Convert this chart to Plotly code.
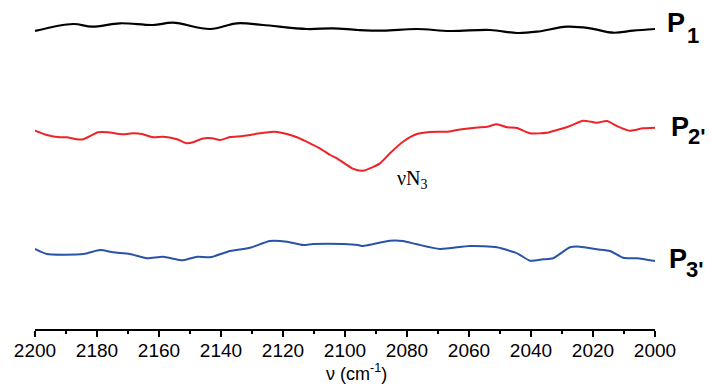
import plotly.graph_objects as go

# IR spectra, 2200-2000 cm-1, traces vertically offset (arbitrary units)
wn_p1 = [2200, 2187.7, 2181.6, 2172.6, 2161.9, 2155.5, 2143.5, 2134.8, 2126.5, 2112.3,
         2103.9, 2095.8, 2087.7, 2076.8, 2066.1, 2053.2, 2044.5, 2038.1, 2028.4, 2021.0,
         2013.5, 2007.1, 2000]
int_p1 = [298, 305, 302.3, 305.7, 304, 306.3, 300, 305.7, 304, 300,
          300.7, 299, 298.3, 300, 298, 299, 296, 297.3, 302.3, 300.7,
          296.3, 298.3, 300]

wn_p2 = [2200, 2196.2, 2191.9, 2189.8, 2186.5, 2184.4, 2179.6, 2176.5, 2171.6, 2168.4,
         2165.5, 2161.9, 2158.7, 2154.2, 2151.0, 2149.0, 2146.1, 2142.9, 2140.3, 2137.1,
         2132.9, 2127.4, 2124.2, 2121.9, 2118.7, 2115.5, 2111.3, 2108.1, 2104.8, 2102.6,
         2097.7, 2094.2, 2088.7, 2085.5, 2081.3, 2076.8, 2072.6, 2067.1, 2063.9, 2058.7,
         2054.2, 2051.0, 2047.7, 2044.5, 2040.3, 2034.8, 2031.6, 2027.4, 2023.2, 2018.7,
         2015.5, 2012.3, 2008.1, 2003.9, 2000]
int_p2 = [198.3, 194, 191.7, 191.7, 189.7, 189.7, 196.7, 196.7, 194.7, 195.7,
          195, 191.7, 192.3, 189.7, 185.7, 186.7, 190.3, 190.7, 189, 192,
          193, 195.7, 197, 197, 195, 191.7, 185.7, 180.7, 174, 170.7,
          160.7, 158.3, 165.7, 175.7, 187.3, 195, 197, 197.3, 199, 201,
          202.3, 204.7, 201.7, 201, 195.7, 196.3, 199, 203, 208.3, 206.3,
          208, 203, 198.3, 200.7, 201.3]

wn_p3 = [2200, 2196.2, 2184.4, 2179.0, 2174.8, 2169.4, 2163.9, 2158.7, 2152.3, 2147.7,
         2143.5, 2137.1, 2130.6, 2124.2, 2118.7, 2113.5, 2110.3, 2100.6, 2095.8, 2094.2,
         2085.5, 2081.3, 2076.8, 2069.4, 2059.7, 2051.0, 2044.5, 2040.3, 2036.1, 2032.9,
         2027.4, 2024.2, 2018.7, 2014.5, 2010.3, 2005.8, 2000]
int_p3 = [80, 75, 75, 79, 76.7, 75, 70.7, 72.3, 68.7, 72.3,
          71.7, 78, 81.3, 88, 87.3, 84, 85, 85, 84, 83,
          88.3, 88, 84.7, 80, 83, 81.7, 75.7, 68.3, 69.7, 70.7,
          81.7, 82.3, 79.7, 78, 71.3, 70.7, 68]

x_ticks = [2200, 2180, 2160, 2140, 2120, 2100, 2080, 2060, 2040, 2020, 2000]

# trace labels: (main letter, subscript, x px, main centre y px, sub x px, sub centre y px)
labels = [
    ("P", "1", 668, 23.5, 688, 35.5),
    ("P", "2'", 672, 127, 689, 136.5),
    ("P", "3'", 670, 259, 687, 269),
]

sans = "Liberation Sans, Arial, Helvetica, sans-serif"
serif = "Liberation Serif, Times New Roman, serif"

L, R, T, B = 35, 56, 0, 56
W, H = 711, 385
PW, PH = W - L - R, H - T - B


def px_x(px):
    return (px - L) / PW


def px_y(py):
    return 1 - (py - T) / PH


fig = go.Figure()
fig.add_trace(go.Scatter(x=wn_p1, y=int_p1, mode="lines",
                         line=dict(color="#000000", width=2.2, shape="spline", smoothing=1.0)))
fig.add_trace(go.Scatter(x=wn_p2, y=int_p2, mode="lines",
                         line=dict(color="#ee2229", width=2, shape="spline", smoothing=0.6)))
fig.add_trace(go.Scatter(x=wn_p3, y=int_p3, mode="lines",
                         line=dict(color="#2a52a8", width=2, shape="spline", smoothing=0.6)))

annotations = []
for main, sub, mx, my, sx, sy in labels:
    annotations.append(dict(x=px_x(mx), y=px_y(my), xref="paper", yref="paper",
                            xanchor="left", yanchor="middle", text=f"<b>{main}</b>",
                            showarrow=False, xshift=-2, borderpad=0,
                            font=dict(family=sans, size=27, color="black")))
    annotations.append(dict(x=px_x(sx), y=px_y(sy), xref="paper", yref="paper",
                            xanchor="left", yanchor="middle", text=f"<b>{sub}</b>",
                            showarrow=False, xshift=-2, borderpad=0,
                            font=dict(family=sans, size=22, color="black")))

annotations += [
    dict(x=2084, y=329 - 179, xref="x", yref="y", xanchor="left", yanchor="middle",
         text="νN<sub>3</sub>", showarrow=False, font=dict(family=serif, size=20, color="black")),
    dict(x=px_x(356), y=px_y(373), xref="paper", yref="paper", xanchor="center", yanchor="middle",
         text="ν (cm<sup>-1</sup>)", showarrow=False, borderpad=0,
         font=dict(family=sans, size=18, color="black")),
]

fig.update_layout(
    width=W, height=H,
    margin=dict(l=L, r=R, t=T, b=B),
    paper_bgcolor="white", plot_bgcolor="white",
    showlegend=False,
    annotations=annotations,
    xaxis=dict(range=[2200, 2000], tickvals=x_ticks, ticktext=[str(v) for v in x_ticks],
               ticks="outside", ticklen=6, tickwidth=1.5, tickcolor="black",
               ticklabelstandoff=-3,
               showline=True, linecolor="black", linewidth=1.5, showgrid=False, zeroline=False,
               tickfont=dict(family=sans, size=19, color="black"),
               minor=dict(ticks="outside", ticklen=3, tickwidth=1.5, tickcolor="black", dtick=10,
                          tick0=2000, showgrid=False)),
    yaxis=dict(range=[0, PH], visible=False, showgrid=False, zeroline=False),
)

fig.write_html("out.html")
